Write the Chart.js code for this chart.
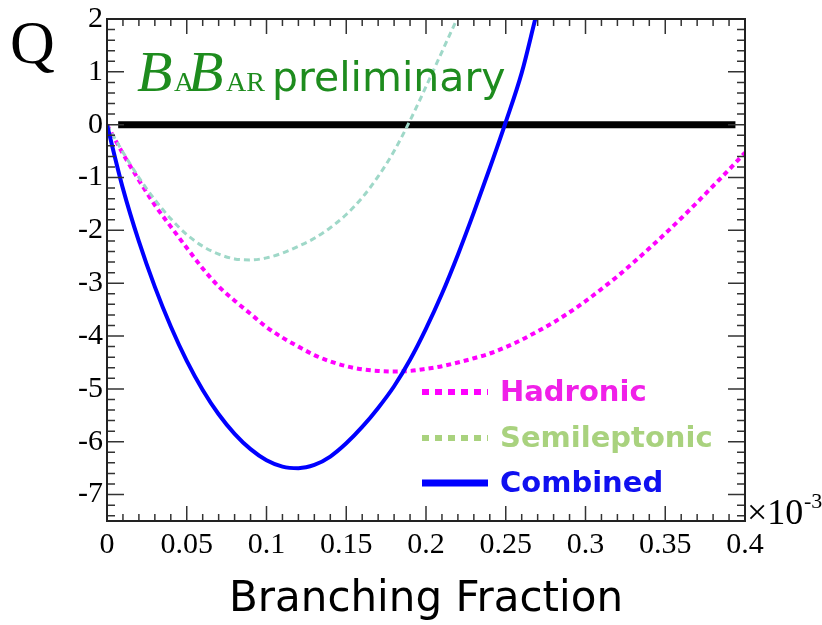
<!DOCTYPE html>
<html>
<head>
<meta charset="utf-8">
<title>Branching Fraction likelihood</title>
<script src="https://cdn.jsdelivr.net/npm/chart.js@4.4.1/dist/chart.umd.min.js"></script>
<style>
  html, body { margin: 0; padding: 0; background: #fff; }
  #wrap { width: 822px; height: 625px; position: relative; }
</style>
</head>
<body>
<div id="wrap"><canvas id="c" width="822" height="625"></canvas></div>
<script>
// Branching fraction (units of 1e-3) and Q = -2 ln(L/L0) for each channel
const hadronicBF = [0, 0.01, 0.02, 0.03, 0.04, 0.05, 0.06, 0.07, 0.08, 0.09,
  0.10, 0.11, 0.12, 0.13, 0.14, 0.15, 0.16, 0.17, 0.18, 0.19,
  0.20, 0.21, 0.22, 0.23, 0.24, 0.25, 0.26, 0.27, 0.28, 0.29,
  0.30, 0.31, 0.32, 0.33, 0.34, 0.35, 0.36, 0.37, 0.38, 0.39, 0.40];
const hadronicQ = [0, -0.55, -1.05, -1.52, -1.93, -2.33, -2.72, -3.06, -3.33, -3.58,
  -3.83, -4.03, -4.20, -4.36, -4.48, -4.57, -4.63, -4.66, -4.67, -4.66,
  -4.62, -4.57, -4.50, -4.42, -4.33, -4.21, -4.07, -3.91, -3.74, -3.55,
  -3.34, -3.11, -2.87, -2.61, -2.34, -2.06, -1.77, -1.47, -1.16, -0.85, -0.53];

const semileptonicBF = [0, 0.01, 0.02, 0.03, 0.04, 0.05, 0.06, 0.07, 0.08, 0.09,
  0.10, 0.11, 0.12, 0.13, 0.14, 0.15, 0.16, 0.17, 0.18, 0.19, 0.20, 0.21, 0.2194];
const semileptonicQ = [0, -0.52, -1.00, -1.42, -1.78, -2.08, -2.30, -2.45, -2.54, -2.56,
  -2.52, -2.43, -2.30, -2.15, -1.95, -1.70, -1.38, -0.98, -0.50, 0.08, 0.72, 1.38, 2.00];

const combinedBF = [0, 0.01, 0.02, 0.03, 0.04, 0.05, 0.06, 0.07, 0.08, 0.09,
  0.10, 0.11, 0.12, 0.13, 0.14, 0.15, 0.16, 0.17, 0.18, 0.19,
  0.20, 0.21, 0.22, 0.23, 0.24, 0.25, 0.26, 0.2685];
const combinedQ = [0, -1.21, -2.21, -3.07, -3.82, -4.47, -5.02, -5.48, -5.85, -6.14,
  -6.35, -6.47, -6.50, -6.44, -6.28, -6.03, -5.72, -5.36, -4.95, -4.45,
  -3.86, -3.20, -2.46, -1.66, -0.82, 0.05, 0.98, 2.00];

// Reference level Q = 0
const zeroLineBF = [0.007, 0.394];
const zeroLineQ = [0, 0];

// Axis tick labels
const xTickValues = [0, 0.05, 0.1, 0.15, 0.2, 0.25, 0.3, 0.35, 0.4];
const xTickLabels = ['0', '0.05', '0.1', '0.15', '0.2', '0.25', '0.3', '0.35', '0.4'];
const yTickValues = [-7, -6, -5, -4, -3, -2, -1, 0, 1, 2];
const yTickLabels = ['-7', '-6', '-5', '-4', '-3', '-2', '-1', '0', '1', '2'];

const seriesNames = ['Hadronic', 'Semileptonic', 'Combined'];

const toPoints = (xs, ys) => xs.map((x, i) => ({ x: x, y: ys[i] }));

const SERIF = '"Liberation Serif", "DejaVu Serif", serif';
const SANS = '"DejaVu Sans", Verdana, sans-serif';

// Frame, mirrored inward ticks, axis decorations, logo and legend
const decorations = {
  id: 'decorations',
  afterDraw(chart) {
    const { ctx, chartArea: a, scales: { x, y } } = chart;
    ctx.save();

    // ticks on all four sides, pointing inward
    ctx.strokeStyle = '#333';
    ctx.lineWidth = 1.5;
    ctx.beginPath();
    for (let i = 0; i <= 40; i++) {
      const v = i / 100;
      const px = x.getPixelForValue(v);
      const len = (i % 5 === 0) ? 15 : 7;
      ctx.moveTo(px, a.bottom); ctx.lineTo(px, a.bottom - len);
      ctx.moveTo(px, a.top); ctx.lineTo(px, a.top + len);
    }
    for (let i = -37; i <= 10; i++) {
      const v = i / 5;
      const py = y.getPixelForValue(v);
      const len = (i % 5 === 0) ? 17 : 8;
      ctx.moveTo(a.left, py); ctx.lineTo(a.left + len, py);
      ctx.moveTo(a.right, py); ctx.lineTo(a.right - len, py);
    }
    ctx.stroke();

    // frame
    ctx.strokeStyle = '#222';
    ctx.lineWidth = 2;
    ctx.strokeRect(a.left, a.top, a.right - a.left, a.bottom - a.top);

    // y-axis title
    ctx.fillStyle = '#000';
    ctx.font = '62px ' + SERIF;
    ctx.textAlign = 'left';
    ctx.textBaseline = 'alphabetic';
    ctx.fillText('Q', 10, 63);

    // exponent of the x axis
    ctx.font = '36px ' + SERIF;
    ctx.fillText('\u00d710', a.right + 2, 524);
    ctx.font = '22px ' + SERIF;
    ctx.fillText('-3', a.right + 59, 508);

    // experiment logo
    const green = '#1e8c1e';
    ctx.fillStyle = green;
    const base = 91;
    ctx.font = 'italic 58px ' + SERIF;
    ctx.fillText('B', 137, base);
    ctx.font = '28px ' + SERIF;
    ctx.fillText('A', 174, base);
    ctx.font = 'italic 58px ' + SERIF;
    ctx.fillText('B', 188, base);
    ctx.font = '28px ' + SERIF;
    ctx.fillText('AR', 226, base);
    ctx.font = '41px ' + SANS;
    ctx.fillText('preliminary', 272, base);

    // legend
    const rows = [
      { y: 392, stroke: '#ff00ff', text: '#f020e8', dash: [7, 6], width: 6 },
      { y: 438, stroke: '#a9d27e', text: '#a9d27e', dash: [7, 6], width: 6 },
      { y: 483, stroke: '#0000ff', text: '#1010f0', dash: [], width: 7 }
    ];
    rows.forEach((r, i) => {
      ctx.beginPath();
      ctx.setLineDash(r.dash);
      ctx.lineWidth = r.width;
      ctx.strokeStyle = r.stroke;
      ctx.lineCap = 'butt';
      ctx.moveTo(422, r.y); ctx.lineTo(488, r.y);
      ctx.stroke();
      ctx.setLineDash([]);
      ctx.fillStyle = r.text;
      ctx.font = 'bold 29px ' + SANS;
      ctx.textBaseline = 'middle';
      ctx.fillText(seriesNames[i], 500, r.y + 1);
    });
    ctx.restore();
  }
};

new Chart(document.getElementById('c'), {
  type: 'line',
  data: {
    datasets: [
      {
        label: 'Q = 0',
        data: toPoints(zeroLineBF, zeroLineQ),
        borderColor: '#000',
        borderWidth: 7,
        borderCapStyle: 'butt',
        pointRadius: 0,
        order: 3
      },
      {
        label: seriesNames[0],
        data: toPoints(hadronicBF, hadronicQ),
        borderColor: '#ff00ff',
        borderWidth: 4,
        borderDash: [5, 4],
        pointRadius: 0,
        cubicInterpolationMode: 'monotone',
        order: 2
      },
      {
        label: seriesNames[1],
        data: toPoints(semileptonicBF, semileptonicQ),
        borderColor: '#9fd8c8',
        borderWidth: 3,
        borderDash: [6, 4],
        pointRadius: 0,
        cubicInterpolationMode: 'monotone',
        order: 1
      },
      {
        label: seriesNames[2],
        data: toPoints(combinedBF, combinedQ),
        borderColor: '#0000ff',
        borderWidth: 4,
        pointRadius: 0,
        cubicInterpolationMode: 'monotone',
        order: 0
      }
    ]
  },
  options: {
    responsive: false,
    animation: false,
    events: [],
    layout: { padding: { top: 17, right: 77, left: 0, bottom: 0 } },
    plugins: { legend: { display: false }, tooltip: { enabled: false } },
    scales: {
      x: {
        type: 'linear',
        min: 0,
        max: 0.4,
        grid: { display: false, drawTicks: false },
        border: { display: false },
        afterBuildTicks: (s) => { s.ticks = xTickValues.map(v => ({ value: v })); },
        afterFit: (s) => { s.height = 104; },
        ticks: {
          color: '#000',
          padding: 6,
          maxRotation: 0,
          autoSkip: false,
          font: { family: SERIF, size: 30 },
          callback: (v) => xTickLabels[xTickValues.findIndex(t => Math.abs(t - v) < 1e-9)]
        },
        title: {
          display: true,
          text: 'Branching Fraction',
          color: '#000',
          font: { family: SANS, size: 42 },
          padding: { top: 0, bottom: 0 }
        }
      },
      y: {
        type: 'linear',
        min: -7.5,
        max: 2,
        grid: { display: false, drawTicks: false },
        border: { display: false },
        afterBuildTicks: (s) => { s.ticks = yTickValues.map(v => ({ value: v })); },
        afterFit: (s) => { s.width = 107; },
        ticks: {
          color: '#000',
          padding: 4,
          autoSkip: false,
          font: { family: SERIF, size: 30, lineHeight: 1 },
          callback: (v) => yTickLabels[yTickValues.indexOf(v)]
        }
      }
    }
  },
  plugins: [decorations]
});
</script>
</body>
</html>
